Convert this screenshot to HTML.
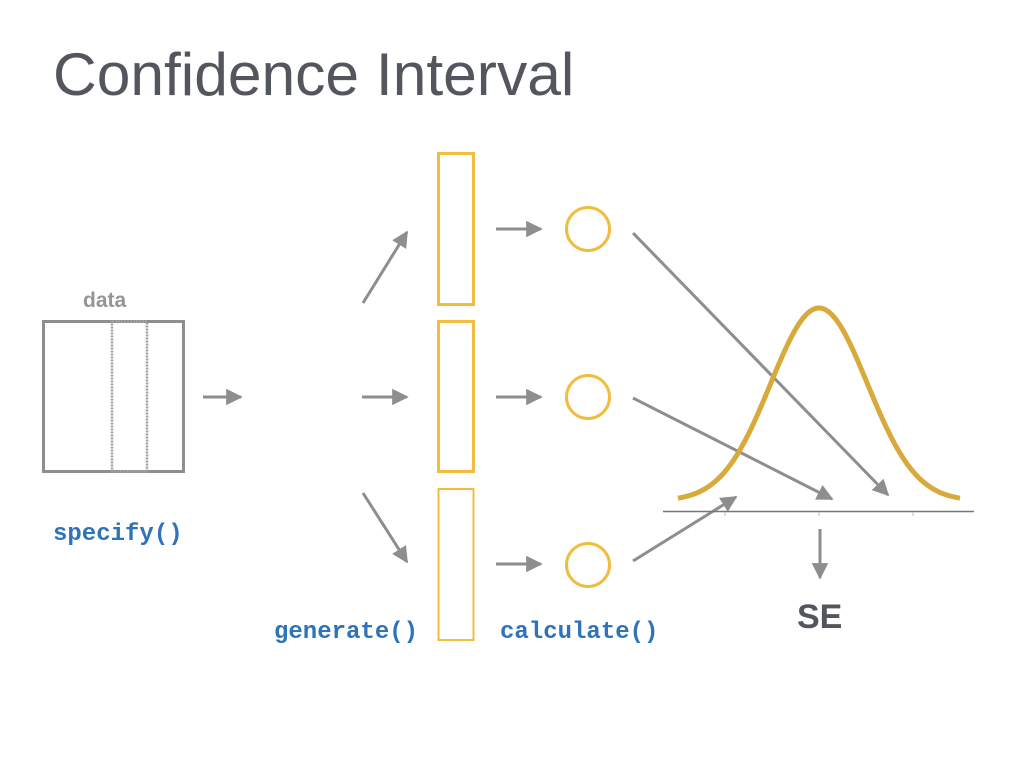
<!DOCTYPE html>
<html><head><meta charset="utf-8"><style>
html,body{margin:0;padding:0;background:#fff;}
body{width:1024px;height:768px;position:relative;overflow:hidden;}
.t{position:absolute;white-space:nowrap;}
.code{font-family:"Liberation Mono",monospace;font-weight:bold;color:#2f74b8;font-size:24px;}
</style></head><body>
<div class="t" style="left:53px;top:39px;font-family:'Liberation Sans',sans-serif;font-size:60.5px;color:#53575d;font-weight:300;">Confidence Interval</div>
<div class="t" style="left:83px;top:289px;font-family:'Liberation Sans',sans-serif;font-weight:bold;font-size:21px;color:#959595;">data</div>
<div class="t code" style="left:53px;top:521px;">specify()</div>
<div class="t code" style="left:274px;top:619px;">generate()</div>
<div class="t code" style="left:500px;top:619px;">calculate()</div>
<div class="t" style="left:797px;top:598px;font-family:'Liberation Sans',sans-serif;font-weight:bold;font-size:34px;color:#53575d;">SE</div>
<svg width="1024" height="768" style="position:absolute;left:0;top:0">
<defs>
<marker id="a" viewBox="0 0 10 10" refX="9" refY="5" markerWidth="5.5" markerHeight="5.5" orient="auto" markerUnits="strokeWidth">
<path d="M0,0 L10,5 L0,10 z" fill="#8e8e8e"/></marker>
</defs>
<rect x="43.5" y="321.5" width="140" height="150" fill="none" stroke="#8e8e8e" stroke-width="3"/>
<rect x="112" y="321.5" width="35" height="150" fill="none" stroke="#a0a0a0" stroke-width="2.5" stroke-dasharray="2 1"/>
<g stroke="#8e8e8e" stroke-width="3" fill="none" marker-end="url(#a)">
<line x1="203" y1="397" x2="241" y2="397"/>
<line x1="362" y1="397" x2="407" y2="397"/>
<line x1="363" y1="303" x2="407" y2="232"/>
<line x1="363" y1="493" x2="407" y2="562"/>
<line x1="496" y1="229" x2="541" y2="229"/>
<line x1="496" y1="397" x2="541" y2="397"/>
<line x1="496" y1="564" x2="541" y2="564"/>
<line x1="633" y1="233" x2="888" y2="495"/>
<line x1="633" y1="398" x2="832" y2="499"/>
<line x1="633" y1="561" x2="736" y2="497"/>
<line x1="820" y1="529" x2="820" y2="578"/>
</g>
<g fill="none" stroke="#f0bd3f" stroke-width="3">
<rect x="438.5" y="153.5" width="35" height="151"/>
<rect x="438.5" y="321.5" width="35" height="150"/>
<rect x="438.5" y="489" width="35" height="151" stroke-width="2"/>
<circle cx="588" cy="229" r="21.5"/>
<circle cx="588" cy="397" r="21.5"/>
<circle cx="588" cy="565" r="21.5"/>
</g>
<line x1="663" y1="511.5" x2="974" y2="511.5" stroke="#777" stroke-width="1.5"/>
<g stroke="#bbb" stroke-width="1"><line x1="725" y1="512" x2="725" y2="516"/><line x1="819" y1="512" x2="819" y2="516"/><line x1="913" y1="512" x2="913" y2="516"/></g>
<path id="curve" fill="none" stroke="#d8a93b" stroke-width="5" stroke-linecap="butt"/>
</svg>
<script>
var d="";for(var x=678;x<=960;x+=2){var dx=x-819;var y=501-193*Math.exp(-dx*dx/(2*48.5*48.5));d+=(x==678?"M":"L")+x+","+y.toFixed(2);}
document.getElementById("curve").setAttribute("d",d);
</script>
</body></html>
